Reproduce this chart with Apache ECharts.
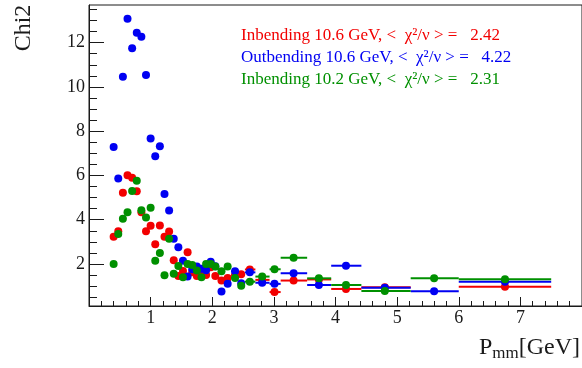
<!DOCTYPE html>
<html>
<head>
<meta charset="utf-8">
<script src="https://cdn.jsdelivr.net/npm/echarts@6/dist/echarts.min.js"></script>
<style>
  html, body { margin: 0; padding: 0; background: #fff; }
  #chart { width: 582px; height: 368px; }
</style>
</head>
<body>
<div id="chart"></div>
<script>
// Bin centres of the electron momentum P_mm [GeV]
const momentum = [0.4, 0.475, 0.55, 0.625, 0.7, 0.775, 0.85, 0.925, 1.0, 1.075,
  1.15, 1.225, 1.3, 1.375, 1.45, 1.525, 1.6, 1.675, 1.75, 1.825,
  1.9, 1.975, 2.05, 2.15, 2.25, 2.37, 2.47, 2.61, 2.81, 3.01,
  3.32, 3.73, 4.17, 4.8, 5.6, 6.75];

// Edges of the wide bins (narrow bins have no visible error bar)
const binLow = [null, null, null, null, null, null, null, null, null, null,
  null, null, null, null, null, null, null, null, null, null,
  null, null, null, null, null, 2.31, 2.43, 2.53, 2.70, 2.93,
  3.11, 3.54, 3.93, 4.42, 5.22, 6.0];
const binHigh = [null, null, null, null, null, null, null, null, null, null,
  null, null, null, null, null, null, null, null, null, null,
  null, null, null, null, null, 2.43, 2.53, 2.70, 2.93, 3.11,
  3.54, 3.93, 4.42, 5.22, 6.0, 7.5];

// Chi2 per bin for each run configuration
const chi2Inbending106 = [3.23, 3.48, 5.22, 6.01, 5.90, 5.28, 4.34, 3.48, 3.73, 2.89,
  3.74, 3.23, 3.47, 2.17, 1.45, 1.68, 2.53, 1.62, 1.46, 1.60,
  1.50, 1.85, 1.46, 1.25, 1.37, 1.50, 1.53, 1.75, 1.28, 0.73,
  1.25, 1.30, 0.87, 0.95, null, 0.97];
const chi2Outbending106 = [7.28, 5.86, 10.46, 13.08, 11.75, 12.45, 12.27, 10.54, 7.67, 6.87,
  7.32, 5.16, 4.42, 3.14, 2.75, 2.15, 1.43, 1.76, 1.88, 1.78,
  1.72, 2.10, 1.90, 0.75, 1.10, 1.67, 1.13, 1.62, 1.15, 1.10,
  1.58, 1.05, 1.92, 0.92, 0.77, 1.20];
const chi2Inbending102 = [2.00, 3.35, 4.04, 4.34, 5.30, 5.76, 4.43, 4.10, 4.54, 2.15,
  2.49, 1.49, 3.14, 1.56, 1.91, 1.40, 2.00, 1.95, 1.70, 1.40,
  2.00, 2.00, 1.88, 1.67, 1.88, 1.37, 1.02, 1.20, 1.43, 1.76,
  2.28, 1.35, 1.05, 0.78, 1.35, 1.31];

const seriesNames = ['Inbending 10.6 GeV', 'Outbending 10.6 GeV', 'Inbending 10.2 GeV'];
const meanChi2 = ['2.42', '4.22', '2.31'];
const seriesColors = ['#f20000', '#0000f2', '#009000'];

// Axis ticks
const yMajorTicks = [2, 4, 6, 8, 10, 12];
const yMinorTicks = [0.5, 1, 1.5, 2.5, 3, 3.5, 4.5, 5, 5.5, 6.5, 7, 7.5, 8.5, 9, 9.5,
  10.5, 11, 11.5, 12.5, 13, 13.5];

const serif = '"Liberation Serif", "DejaVu Serif", serif';
const ink = '#1a1a1a';

function pointsOf(values) {
  const out = [];
  values.forEach((v, i) => { if (v !== null) out.push([momentum[i], v]); });
  return out;
}
function barsOf(values) {
  const out = [];
  values.forEach((v, i) => {
    if (v !== null && binLow[i] !== null) out.push([momentum[i], v, binLow[i], binHigh[i]]);
  });
  return out;
}
function renderBar(params, api) {
  const y = api.value(1);
  const a = api.coord([api.value(2), y]);
  const b = api.coord([api.value(3), y]);
  return {
    type: 'line',
    shape: { x1: a[0], y1: a[1], x2: b[0], y2: b[1] },
    style: { stroke: api.visual('color'), lineWidth: 2 }
  };
}

const allValues = [chi2Inbending106, chi2Outbending106, chi2Inbending102];
const series = [];
allValues.forEach((vals, k) => {
  series.push({
    name: seriesNames[k], type: 'custom', renderItem: renderBar,
    data: barsOf(vals), encode: { x: [0, 2, 3], y: 1 },
    itemStyle: { color: seriesColors[k] }, silent: true, z: 2 + k * 2
  });
  series.push({
    name: seriesNames[k], type: 'scatter', symbol: 'circle', symbolSize: 8,
    data: pointsOf(vals), itemStyle: { color: seriesColors[k], opacity: 1 },
    z: 3 + k * 2
  });
});

const chart = echarts.init(document.getElementById('chart'), null, { renderer: 'canvas' });
chart.setOption({
  animation: false,
  backgroundColor: '#ffffff',
  grid: { left: 89, top: 5, width: 504, height: 301, show: true, borderColor: ink, borderWidth: 1 },
  xAxis: {
    type: 'value', min: 0, max: 8, interval: 1,
    axisLine: { lineStyle: { color: ink, width: 1 } },
    axisTick: { inside: true, length: 9, lineStyle: { color: ink } },
    minorTick: { show: true, splitNumber: 5, length: 5, lineStyle: { color: ink } },
    splitLine: { show: false },
    axisLabel: { showMinLabel: false, showMaxLabel: false, margin: 3,
      fontFamily: serif, fontSize: 18, color: ink }
  },
  yAxis: [{
    type: 'value', min: 0.1, max: 13.7, position: 'left',
    axisLine: { show: true, lineStyle: { color: ink, width: 1 } },
    axisTick: { show: true, inside: true, length: 15, customValues: yMajorTicks, lineStyle: { color: ink } },
    axisLabel: { customValues: yMajorTicks, margin: 4, fontFamily: serif, fontSize: 18, color: ink },
    splitLine: { show: false }
  }, {
    type: 'value', min: 0.1, max: 13.7, position: 'left', offset: 0,
    axisLine: { show: false },
    axisTick: { show: true, inside: true, length: 8, customValues: yMinorTicks, lineStyle: { color: ink } },
    axisLabel: { show: false },
    splitLine: { show: false }
  }],
  legend: {
    orient: 'vertical', left: 231, top: 22,
    icon: 'none', itemWidth: 0, itemHeight: 17, itemGap: 5,
    selectedMode: false,
    data: seriesNames.map((n, i) => ({ name: n, textStyle: { color: seriesColors[i] } })),
    formatter: name => name + ', <  \u03c7\u00b2/\u03bd > =   ' + meanChi2[seriesNames.indexOf(name)],
    textStyle: { fontFamily: serif, fontSize: 17 }
  },
  graphic: [{
    type: 'text', x: 24, y: 28, rotation: Math.PI / 2,
    style: { text: 'Chi2', font: '24px ' + serif, fill: ink,
      align: 'center', verticalAlign: 'middle', textAlign: 'center', textVerticalAlign: 'middle' }
  }, {
    type: 'text', x: 580, y: 362,
    style: {
      text: '{a|P}{b|mm}{a|[GeV]}', fill: ink,
      align: 'right', verticalAlign: 'bottom', textAlign: 'right', textVerticalAlign: 'bottom',
      rich: {
        a: { font: '24px ' + serif, fill: ink, lineHeight: 28 },
        b: { font: '17px ' + serif, fill: ink, lineHeight: 14, verticalAlign: 'bottom' }
      }
    }
  }],
  series: series
});
</script>
</body>
</html>
